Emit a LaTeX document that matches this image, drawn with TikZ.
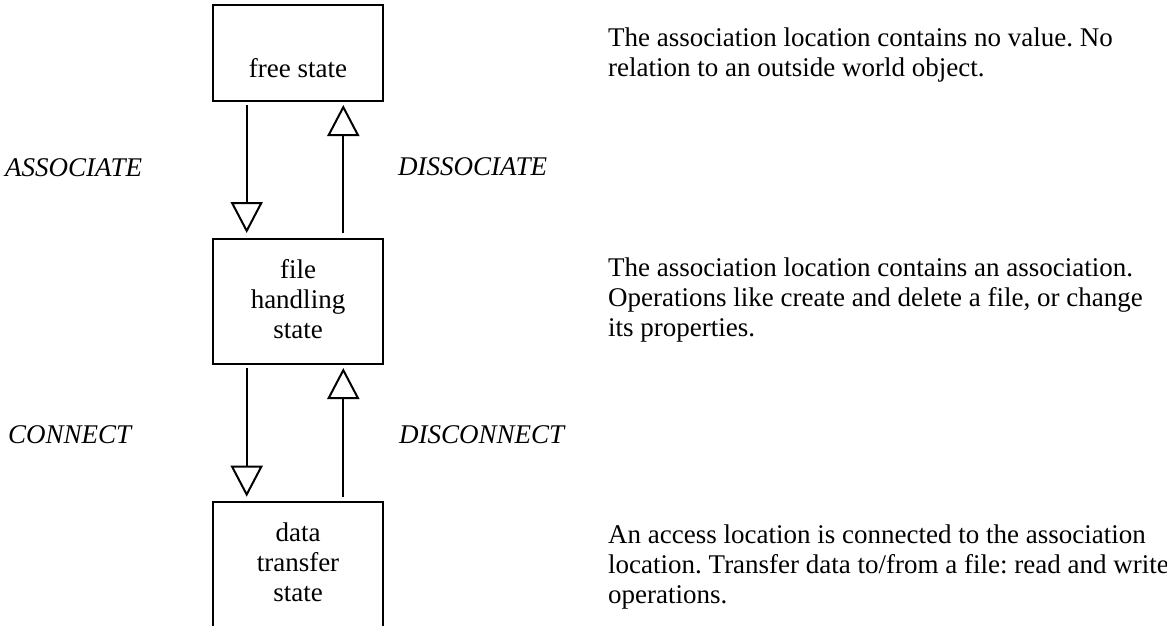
\documentclass[tikz,border=0pt]{standalone}
\usepackage{fontspec}
\setmainfont{Liberation Serif}
\usetikzlibrary{arrows.meta}
\frenchspacing
\tikzset{
  statebox/.style={draw, line width=2pt, minimum width=170pt, inner sep=0pt},
  boxtext/.style={align=center, anchor=base, inner sep=0pt, font=\fontsize{27pt}{30pt}\selectfont},
  desc/.style={align=left, anchor=base west, inner sep=0pt, font=\fontsize{27pt}{30pt}\selectfont},
  oplabel/.style={anchor=base west, inner sep=0pt, font=\fontsize{27pt}{30pt}\selectfont\itshape},
  trans/.style={line width=2pt, -{Triangle[open, length=31pt, width=32pt, line width=2pt]}},
}
\begin{document}
\begin{tikzpicture}[x=1pt, y=-1pt]
\useasboundingbox (0,0) rectangle (1167,625);
\clip (0,0) rectangle (1167,625);
% boxes
\node[statebox, minimum height=96pt] (free) at (298,53) {};
\node[statebox, minimum height=125pt] (file) at (298,301) {};
\node[statebox, minimum height=125pt] (data) at (298,564.5) {};
% box texts (anchor = baseline of the last line)
\node[boxtext] (freet) at (298,77) {free state};
\node[boxtext] (filet) at (298,338) {file\\handling\\state};
\node[boxtext] (datat) at (298,601.7) {data\\transfer\\state};
% transition end points
\coordinate (a1s) at (246.7,105);
\coordinate (a1e) at (246.7,233);
\coordinate (d1s) at (343.3,233);
\coordinate (d1e) at (343.3,105);
\coordinate (a2s) at (246.7,368);
\coordinate (a2e) at (246.7,496.7);
\coordinate (d2s) at (343.3,496.7);
\coordinate (d2e) at (343.3,368);
\draw[trans] (a1s) -- (a1e);
\draw[trans] (d1s) -- (d1e);
\draw[trans] (a2s) -- (a2e);
\draw[trans] (d2s) -- (d2e);
% operation labels
\node[oplabel] (assoc) at (5,176) {ASSOCIATE};
\node[oplabel] (dissoc) at (398,175) {DISSOCIATE};
\node[oplabel] (conn) at (8,443) {CONNECT};
\node[oplabel] (disconn) at (399,443) {DISCONNECT};
% descriptions (anchor = baseline of the last line)
\node[desc] (freed) at (608,76.7) {The association location contains no value. No\\relation to an outside world object.};
\node[desc] (filed) at (608,336.7) {The association location contains an association.\\Operations like create and delete a file, or change\\its properties.};
\node[desc] (datad) at (608,603) {An access location is connected to the association\\location. Transfer data to/from a file: read and write\\operations.};
\end{tikzpicture}
\end{document}
